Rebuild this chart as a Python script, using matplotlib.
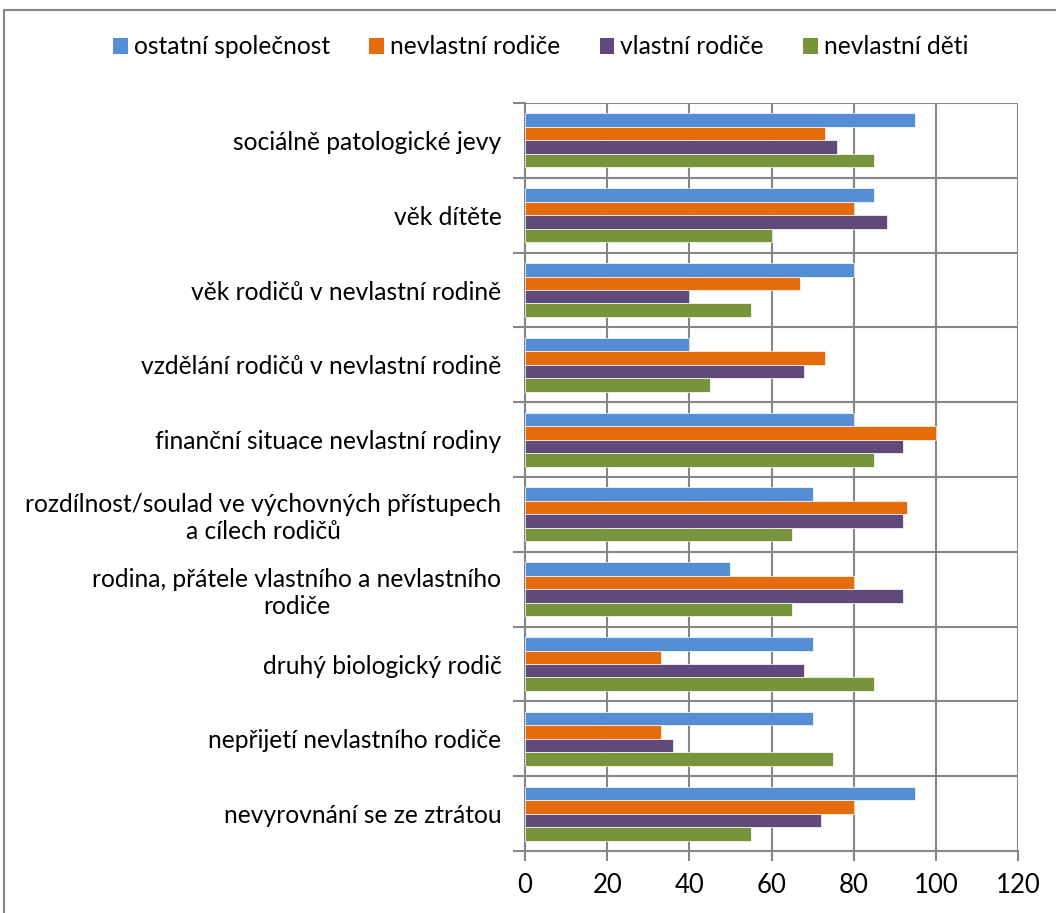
import matplotlib
matplotlib.use("Agg")
import matplotlib.pyplot as plt
import numpy as np
from matplotlib.lines import Line2D
from matplotlib.patches import Patch

categories = [
    "sociálně patologické jevy",
    "věk dítěte",
    "věk rodičů v nevlastní rodině",
    "vzdělání rodičů v nevlastní rodině",
    "finanční situace nevlastní rodiny",
    "rozdílnost/soulad ve výchovných přístupech\na cílech rodičů",
    "rodina, přátele vlastního a nevlastního\nrodiče",
    "druhý biologický rodič",
    "nepřijetí nevlastního rodiče",
    "nevyrovnání se ze ztrátou",
]
series_names = ["ostatní společnost", "nevlastní rodiče", "vlastní rodiče", "nevlastní děti"]
ostatni = [95, 85, 80, 40, 80, 70, 50, 70, 70, 95]
nevlastni_rodice = [73, 80, 67, 73, 100, 93, 80, 33, 33, 80]
vlastni_rodice = [76, 88, 40, 68, 92, 92, 92, 68, 36, 72]
nevlastni_deti = [85, 60, 55, 45, 85, 65, 65, 85, 75, 55]
colors = ["#558ED5", "#E46C0A", "#604A7B", "#77933C"]
xticks = [0, 20, 40, 60, 80, 100, 120]

plt.rcParams['font.family'] = ['Lato', 'DejaVu Sans']

fig = plt.figure(figsize=(10.56, 9.13), dpi=100)
ax = fig.add_axes([525/1056, 1 - 851/913, (1018-525)/1056, (851-103)/913])

n = len(categories)
y = np.arange(n)
bh = 0.18
data = [ostatni, nevlastni_rodice, vlastni_rodice, nevlastni_deti]
for i, (vals, c) in enumerate(zip(data, colors)):
    offs = (i - 1.5) * bh
    ax.barh(y + offs, vals, height=bh, color=c, edgecolor='white', linewidth=0.5, zorder=3)

ax.set_ylim(n - 0.5, -0.5)
ax.set_xlim(0, 120)
ax.set_xticks(xticks)
ax.set_xticklabels([str(t) for t in xticks], fontsize=18.5)
ax.set_yticks(y)
ax.set_yticklabels(categories, fontsize=17.7, multialignment='center')
ax.tick_params(axis='y', which='major', length=0, pad=17)
ax.set_yticks(np.arange(-0.5, n + 0.5, 1), minor=True)
ax.tick_params(axis='y', which='minor', length=9, color='#868686', width=1.5)
ax.tick_params(axis='x', which='major', length=7, color='#868686', width=1.5, pad=9)

ax.grid(True, axis='x', which='major', color='#868686', linewidth=1.5, zorder=0)
ax.grid(True, axis='y', which='minor', color='#868686', linewidth=1.5, zorder=0)
for s in ['top', 'right']:
    ax.spines[s].set_visible(False)
for s in ['left', 'bottom']:
    ax.spines[s].set_color('#868686')
    ax.spines[s].set_linewidth(1.5)

handles = [Patch(facecolor=c, edgecolor='none') for c in colors]
fig.legend(handles, series_names, loc='center', bbox_to_anchor=(0.512, 1 - 47/913),
           ncol=4, frameon=False, fontsize=17.7, handlelength=0.6, handleheight=0.6,
           handletextpad=0.25, columnspacing=1.6)

# outer chart border
fig.add_artist(Line2D([4/1056, 4/1056], [0, 1 - 10/913], color='#868686', linewidth=1.5))
fig.add_artist(Line2D([4/1056, 1], [1 - 10/913, 1 - 10/913], color='#868686', linewidth=1.5))

fig.savefig("out.png", dpi=100)
